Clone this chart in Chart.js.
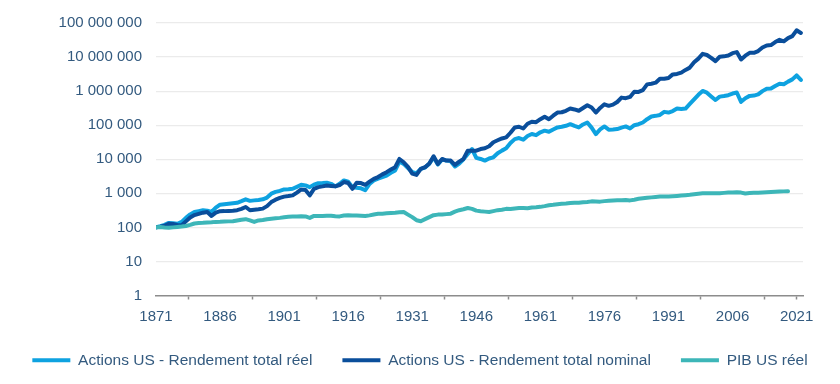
<!DOCTYPE html>
<html>
<head>
<meta charset="utf-8">
<script src="https://cdn.jsdelivr.net/npm/chart.js@4/dist/chart.umd.min.js"></script>
<style>
  html, body { margin: 0; padding: 0; background: #ffffff; }
  #wrap { width: 840px; height: 384px; position: relative; }
</style>
</head>
<body>
<div id="wrap"><canvas id="c"></canvas></div>
<script>
// ---- Data ----
const years = [];
for (let y = 1871; y <= 2022; y++) years.push(y);

const seriesNames = [
  "Actions US - Rendement total réel",
  "Actions US - Rendement total nominal",
  "PIB US réel"
];

// Actions US - Rendement total réel (1871 = 100)
const realReturn = [
  100, 108, 118, 135, 132, 128, 145, 190, 240, 283,
  300, 318, 310, 283, 380, 465, 480, 495, 510, 527,
  590, 667, 600, 620, 640, 667, 750, 975, 1100, 1180,
  1300, 1320, 1360, 1550, 1780, 1700, 1520, 1800, 1990, 2000,
  2040, 1900, 1600, 1900, 2390, 2200, 1520, 1450, 1400, 1230,
  1900, 2390, 2700, 3000, 3330, 4000, 4690, 8540, 7300, 5500,
  4200, 3900, 5220, 5700, 7400, 11400, 7000, 9800, 9140, 8800,
  6130, 7500, 10000, 14200, 19900, 11000, 10200, 9140, 10500, 11400,
  15000, 17900, 20900, 30000, 39000, 42000, 37600, 48000, 55000, 51000,
  62000, 69000, 64000, 75000, 86000, 90000, 96000, 107000, 95000, 86000,
  105000, 120000, 85000, 55000, 75000, 92000, 74000, 75000, 77000, 85000,
  92000, 80000, 100000, 107000, 120000, 150000, 180000, 188000, 200000, 246000,
  235000, 260000, 308000, 300000, 308000, 420000, 575000, 780000, 1010000, 900000,
  700000, 550000, 690000, 720000, 760000, 850000, 910000, 485000, 620000, 725000,
  740000, 800000, 1000000, 1180000, 1200000, 1420000, 1650000, 1600000, 1900000, 2210000,
  2890000, 2130000
];

// Actions US - Rendement total nominal (1871 = 100)
const nominalReturn = [
  100, 105, 112, 128, 125, 118, 115, 150, 195, 230,
  250, 270, 283, 217, 270, 298, 300, 305, 310, 320,
  350, 397, 318, 330, 340, 355, 420, 552, 650, 730,
  800, 830, 870, 1050, 1300, 1250, 870, 1350, 1520, 1600,
  1700, 1650, 1600, 1750, 2140, 2000, 1360, 2040, 2000, 1780,
  2200, 2660, 3000, 3600, 4180, 5000, 5860, 10200, 8140, 6000,
  3800, 3480, 5220, 5860, 7500, 12200, 7300, 10200, 9140, 9140,
  6820, 8500, 10200, 17900, 17900, 17900, 19900, 21000, 24000, 31600,
  36000, 40800, 44000, 60000, 86000, 90000, 80000, 110000, 126000, 122000,
  150000, 178000, 150000, 190000, 235000, 240000, 265000, 308000, 290000, 265000,
  320000, 385000, 330000, 235000, 320000, 410000, 370000, 400000, 480000, 645000,
  620000, 675000, 955000, 950000, 1070000, 1580000, 1650000, 1770000, 2320000, 2300000,
  2430000, 3100000, 3200000, 3500000, 4200000, 4900000, 7000000, 9000000, 12400000, 11500000,
  9500000, 7600000, 10200000, 10500000, 11100000, 13000000, 14000000, 8500000, 11000000, 13300000,
  13300000, 15000000, 19000000, 21900000, 22500000, 27500000, 32000000, 29000000, 36000000, 41000000,
  61000000, 51000000
];

// PIB US réel (1871 = 100), ends in 2019
const realGDP = [
  100, 102, 99, 97, 100, 103, 106, 110, 118, 130,
  135, 137, 140, 142, 145, 146, 148, 150, 152, 160,
  168, 174, 160, 145, 160, 165, 174, 180, 185, 190,
  198, 205, 208, 210, 213, 210, 190, 217, 215, 215,
  218, 220, 213, 210, 222, 228, 225, 222, 220, 217,
  225, 240, 250, 253, 260, 265, 270, 278, 283, 237,
  200, 162, 152, 175, 200, 228, 237, 237, 245, 253,
  290, 320, 340, 370, 350, 310, 298, 290, 283, 300,
  320, 330, 350, 345, 360, 368, 372, 365, 385, 390,
  400, 420, 445, 460, 480, 495, 505, 520, 530, 530,
  545, 560, 580, 575, 570, 590, 605, 620, 630, 625,
  635, 620, 650, 690, 715, 740, 760, 785, 800, 805,
  800, 815, 835, 860, 880, 905, 940, 975, 1000, 1010,
  1005, 1005, 1010, 1030, 1050, 1065, 1070, 1050, 990, 1020,
  1035, 1045, 1060, 1080, 1100, 1110, 1125, 1140, 1150, null,
  null, null
];

const xTickYears = [1871, 1886, 1901, 1916, 1931, 1946, 1961, 1976, 1991, 2006, 2021];
const yTickValues = [1, 10, 100, 1000, 10000, 100000, 1000000, 10000000, 100000000];

// ---- Styling ----
const TEXT = '#335a7f';
const FONT = { family: "'Liberation Sans', Arial, sans-serif", size: 15 };
const LEGEND_FONT = { family: "'Liberation Sans', Arial, sans-serif", size: 15.5 };
const colors = ['#0ea2e0', '#0a4e9b', '#3db6b8'];

function toPoints(arr) {
  return years.map((yr, i) => ({ x: yr, y: arr[i] }));
}
function fmtSpace(v) {
  return String(Math.round(v)).replace(/\B(?=(\d{3})+(?!\d))/g, ' ');
}
const tickMarkYears = [];
for (let i = 0; i < xTickYears.length - 1; i++) tickMarkYears.push((xTickYears[i] + xTickYears[i + 1]) / 2);

const allSeries = [realReturn, nominalReturn, realGDP];
const drawOrder = [2, 1, 0];

new Chart(document.getElementById('c'), {
  type: 'line',
  data: {
    datasets: allSeries.map((arr, i) => ({
      label: seriesNames[i],
      data: toPoints(arr),
      borderColor: colors[i],
      backgroundColor: colors[i],
      borderWidth: 4,
      pointRadius: 0,
      tension: 0,
      borderJoinStyle: 'round',
      borderCapStyle: 'round',
      spanGaps: false,
      order: drawOrder[i]
    }))
  },
  options: {
    responsive: true,
    maintainAspectRatio: false,
    animation: false,
    layout: { padding: { left: 0, top: 20, right: 0, bottom: 6 } },
    plugins: {
      tooltip: { enabled: false },
      legend: {
        position: 'bottom',
        labels: {
          sort: (a, b) => a.datasetIndex - b.datasetIndex,
          boxWidth: 38,
          boxHeight: 4,
          padding: 30,
          color: TEXT,
          font: LEGEND_FONT,
          generateLabels: (chart) => chart.data.datasets.map((ds, i) => ({
            text: ds.label,
            fillStyle: ds.borderColor,
            strokeStyle: ds.borderColor,
            lineWidth: 0,
            fontColor: TEXT,
            datasetIndex: i,
            hidden: false
          }))
        }
      }
    },
    scales: {
      x: {
        type: 'linear',
        min: 1871,
        max: 2022.5,
        afterBuildTicks: (scale) => {
          const t = xTickYears.map(v => ({ value: v }))
            .concat(tickMarkYears.map(v => ({ value: v })));
          t.sort((a, b) => a.value - b.value);
          scale.ticks = t;
        },
        afterFit: (scale) => { scale.height = 27; },
        ticks: {
          autoSkip: false,
          maxRotation: 0,
          color: TEXT,
          font: FONT,
          padding: 8,
          callback: (v) => xTickYears.includes(v) ? String(v) : ''
        },
        grid: {
          drawOnChartArea: false,
          drawTicks: true,
          tickLength: 4,
          tickWidth: 1.5,
          tickColor: (ctx) => {
            const v = ctx.tick ? ctx.tick.value : null;
            return (v !== null && (!xTickYears.includes(v) || v === 2021)) ? '#8c8c8c' : 'rgba(0,0,0,0)';
          }
        },
        border: { display: true, color: '#8c8c8c', width: 1.5 }
      },
      y: {
        type: 'logarithmic',
        min: 1,
        max: 100000000,
        afterBuildTicks: (scale) => {
          scale.ticks = yTickValues.map(v => ({ value: v }));
        },
        afterFit: (scale) => { scale.width = 156; },
        ticks: {
          color: TEXT,
          font: FONT,
          padding: 14,
          callback: (v) => fmtSpace(v)
        },
        grid: {
          drawTicks: false,
          lineWidth: 1.2,
          color: (ctx) => (ctx.tick && ctx.tick.value === 1) ? 'rgba(0,0,0,0)' : '#ebebeb'
        },
        border: { display: false }
      },
      yRight: {
        type: 'linear',
        position: 'right',
        display: true,
        min: 0,
        max: 1,
        afterFit: (scale) => { scale.width = 37; },
        ticks: { display: false },
        grid: { display: false, drawOnChartArea: false },
        border: { display: false }
      }
    }
  }
});
</script>
</body>
</html>
